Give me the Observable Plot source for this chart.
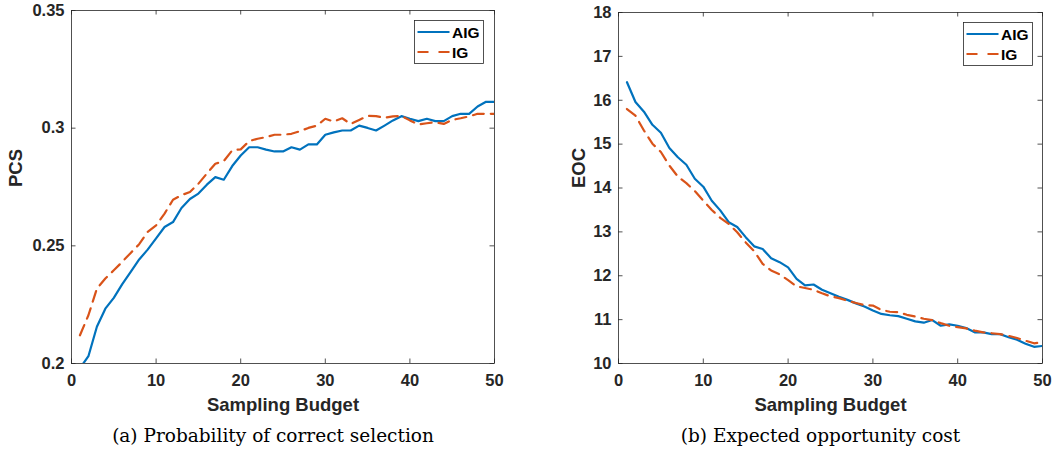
<!DOCTYPE html>
<html>
<head>
<meta charset="utf-8">
<script src="https://cdn.jsdelivr.net/npm/d3@7"></script>
<script src="https://cdn.jsdelivr.net/npm/@observablehq/plot@0.6"></script>
<style>
  html, body { margin: 0; padding: 0; background: #fff; }
  #wrap { position: relative; width: 1054px; height: 454px; display: flex; }
  #wrap svg.legend { position: absolute; }
</style>
</head>
<body>
<div id="wrap"></div>
<script>
// Sampling budget (x axis) shared by both panels
const budget = d3.range(1, 51);
const seriesNames = ["AIG", "IG"];
const seriesColors = ["#0072BD", "#D95319"];

// (a) Probability of correct selection
const pcsAIG = [0.198, 0.2031, 0.2156, 0.2233, 0.2279, 0.2337, 0.2389, 0.2442, 0.2484, 0.2532,
  0.258, 0.2601, 0.2661, 0.2699, 0.2722, 0.276, 0.2792, 0.2781, 0.2839, 0.2884,
  0.2919, 0.2919, 0.2909, 0.2901, 0.2901, 0.2919, 0.2909, 0.2931, 0.2931, 0.2972,
  0.2982, 0.299, 0.299, 0.3011, 0.3001, 0.299, 0.3011, 0.3033, 0.3051, 0.304,
  0.303, 0.304, 0.303, 0.303, 0.3051, 0.3061, 0.3061, 0.3092, 0.3112, 0.3112];
const pcsIG = [0.212, 0.2205, 0.2318, 0.2361, 0.2396, 0.2432, 0.247, 0.2507, 0.2559, 0.2587,
  0.2637, 0.2696, 0.2715, 0.2729, 0.2764, 0.2807, 0.2849, 0.286, 0.2906, 0.291,
  0.2945, 0.2955, 0.2962, 0.2972, 0.2972, 0.2976, 0.2987, 0.3001, 0.3011, 0.304,
  0.3028, 0.3042, 0.3018, 0.3035, 0.3052, 0.3051, 0.3044, 0.305, 0.3052, 0.3033,
  0.3016, 0.3021, 0.3025, 0.3018, 0.3035, 0.3042, 0.305, 0.3061, 0.3061, 0.3061];

// (b) Expected opportunity cost
const eocAIG = [16.41, 15.96, 15.74, 15.44, 15.26, 14.91, 14.70, 14.53, 14.21, 14.03,
  13.71, 13.49, 13.22, 13.11, 12.88, 12.67, 12.61, 12.40, 12.31, 12.19,
  11.93, 11.78, 11.80, 11.68, 11.60, 11.52, 11.45, 11.37, 11.30, 11.21,
  11.13, 11.10, 11.08, 11.02, 10.96, 10.93, 10.99, 10.86, 10.89, 10.86,
  10.81, 10.71, 10.71, 10.67, 10.67, 10.60, 10.54, 10.45, 10.38, 10.40];
const eocIG = [15.80, 15.65, 15.31, 15.01, 14.82, 14.51, 14.26, 14.11, 13.93, 13.71,
  13.50, 13.32, 13.18, 12.99, 12.76, 12.56, 12.27, 12.12, 12.03, 11.90,
  11.76, 11.72, 11.68, 11.60, 11.53, 11.49, 11.43, 11.38, 11.33, 11.32,
  11.22, 11.18, 11.17, 11.11, 11.07, 11.02, 10.99, 10.92, 10.86, 10.83,
  10.80, 10.75, 10.71, 10.69, 10.67, 10.63, 10.58, 10.52, 10.46, 10.49];

// Axis ticks and their labels
const xTicks = [0, 10, 20, 30, 40, 50];
const pcsTicks = [0.2, 0.25, 0.3, 0.35];
const pcsTickLabels = ["0.2", "0.25", "0.3", "0.35"];
const eocTicks = [10, 11, 12, 13, 14, 15, 16, 17, 18];
const eocTickLabels = ["10", "11", "12", "13", "14", "15", "16", "17", "18"];

const xLabel = "Sampling Budget";
const captions = ["(a) Probability of correct selection", "(b) Expected opportunity cost"];

const SANS = "'Liberation Sans', Arial, Helvetica, sans-serif";
const SERIF = "'DejaVu Serif', 'Liberation Serif', serif";
const INK = "#262626";
const TICK = 4.5;

function panel({width, height, margin, aig, ig, yDomain, yTicks, yTickLabels, yLabel, yLabelDx, caption}) {
  const plotW = width - margin.left - margin.right;
  const plotH = height - margin.top - margin.bottom;
  const rows = (vals) => budget.map((b, i) => ({budget: b, value: vals[i]}));
  return Plot.plot({
    width, height,
    marginLeft: margin.left, marginRight: margin.right,
    marginTop: margin.top, marginBottom: margin.bottom,
    style: {fontFamily: SANS, background: "transparent", overflow: "visible"},
    x: {domain: [0, 50]},
    y: {domain: yDomain},
    marks: [
      Plot.line(rows(aig), {x: "budget", y: "value", stroke: seriesColors[0], strokeWidth: 2.2, clip: true}),
      Plot.line(rows(ig), {x: "budget", y: "value", stroke: seriesColors[1], strokeWidth: 2.2,
        strokeDasharray: "11,7", clip: true}),
      Plot.frame({stroke: INK, strokeWidth: 0.8}),
      // inward ticks on all four sides of the box
      Plot.tickX(xTicks, {x: d => d, insetTop: plotH - TICK, stroke: INK, strokeWidth: 0.8}),
      Plot.tickX(xTicks, {x: d => d, insetBottom: plotH - TICK, stroke: INK, strokeWidth: 0.8}),
      Plot.tickY(yTicks, {y: d => d, insetRight: plotW - TICK, stroke: INK, strokeWidth: 0.8}),
      Plot.tickY(yTicks, {y: d => d, insetLeft: plotW - TICK, stroke: INK, strokeWidth: 0.8}),
      Plot.axisX({ticks: xTicks, tickSize: 0, tickPadding: 10.5, label: null,
        fontSize: 16.5, fontWeight: "bold", fill: INK}),
      Plot.axisY({ticks: yTicks, tickFormat: d => yTickLabels[yTicks.indexOf(d)], tickSize: 0,
        tickPadding: 7, label: null, fontSize: 16.5, fontWeight: "bold", fill: INK}),
      Plot.text([xLabel], {text: d => d, frameAnchor: "bottom", dy: 47,
        fontSize: 18.5, fontWeight: "bold", fill: INK}),
      Plot.text([yLabel], {text: d => d, frameAnchor: "left", dx: yLabelDx, rotate: -90,
        fontSize: 18.5, fontWeight: "bold", fill: INK}),
      Plot.text([caption], {text: d => d, frameAnchor: "bottom", dy: 78, dx: -10,
        fontSize: 18.5, fontFamily: SERIF, fill: "#000", letterSpacing: "0.9px"})
    ]
  });
}

function legend(left, top) {
  const w = 69, h = 43;
  const svg = d3.create("svg").attr("class", "legend")
    .attr("width", w + 2).attr("height", h + 2)
    .style("left", `${left}px`).style("top", `${top}px`);
  svg.append("rect").attr("x", 0.5).attr("y", 0.5).attr("width", w).attr("height", h)
    .attr("fill", "#fff").attr("stroke", INK).attr("stroke-width", 0.8);
  seriesNames.forEach((name, i) => {
    const cy = 12 + i * 20;
    svg.append("line").attr("x1", 3.5).attr("x2", 35.5).attr("y1", cy).attr("y2", cy)
      .attr("stroke", seriesColors[i]).attr("stroke-width", 2.2)
      .attr("stroke-dasharray", i === 1 ? "11,10" : null);
    svg.append("text").attr("x", 38).attr("y", cy).attr("dy", "0.36em")
      .attr("font-family", SANS).attr("font-weight", "bold").attr("font-size", 15.5)
      .attr("fill", "#000").text(name);
  });
  return svg.node();
}

const wrap = document.getElementById("wrap");
wrap.append(panel({
  width: 527, height: 454, margin: {left: 71, right: 33, top: 10, bottom: 91},
  aig: pcsAIG, ig: pcsIG, yDomain: [0.2, 0.35], yTicks: pcsTicks, yTickLabels: pcsTickLabels,
  yLabel: "PCS", yLabelDx: -55.5, caption: captions[0]
}));
wrap.append(panel({
  width: 527, height: 454, margin: {left: 91, right: 12, top: 12, bottom: 91},
  aig: eocAIG, ig: eocIG, yDomain: [10, 18], yTicks: eocTicks, yTickLabels: eocTickLabels,
  yLabel: "EOC", yLabelDx: -39.5, caption: captions[1]
}));
wrap.append(legend(414, 20));
wrap.append(legend(963, 22));
</script>
</body>
</html>
